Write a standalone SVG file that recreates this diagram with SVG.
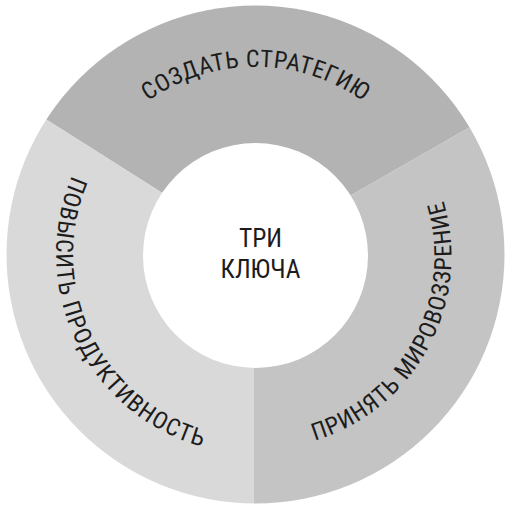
<svg xmlns="http://www.w3.org/2000/svg" width="511" height="514" viewBox="0 0 511 514">
<defs>
<style>
.lbl{font-family:"Liberation Sans Narrow","Roboto Condensed","DejaVu Sans Condensed","Liberation Sans",sans-serif;font-stretch:condensed;fill:#1c1c1c;}
.ring{font-size:24px;}
.ctr{font-size:25.5px;}
</style>
<clipPath id="outer"><circle cx="255.5" cy="254.5" r="249"/></clipPath>
<path id="pTop" d="M71,251.3 A184.5,184.5 0 0 1 440,251.3"/>
<path id="pLeft" d="M166.1,75.6 A200,200 0 0 0 338.6,436.4"/>
<path id="pRight" d="M167.3,426.2 A193,193 0 0 0 349.7,86"/>
</defs>
<rect width="511" height="514" fill="#ffffff"/>
<g clip-path="url(#outer)">
<g id="seg-top"><polygon points="254,251 -100,27 -100,-100 700,-100 700,-5" fill="#b3b3b3"/></g>
<g id="seg-left"><polygon points="254,251 -100,27 -100,700 254,700" fill="#d9d9d9"/></g>
<g id="seg-right"><polygon points="254,251 254,700 700,700 700,-5" fill="#c4c4c4"/></g>
</g>
<g id="center">
<circle cx="255.5" cy="255.5" r="112.5" fill="#ffffff"/>
<text class="lbl ctr" x="260.5" y="246.7" text-anchor="middle">ТРИ</text>
<text class="lbl ctr" x="260.5" y="278.3" text-anchor="middle">КЛЮЧА</text>
</g>
<g id="label-top"><text class="lbl ring" text-anchor="middle"><textPath href="#pTop" startOffset="50%" textLength="229" lengthAdjust="spacing">СОЗДАТЬ СТРАТЕГИЮ</textPath></text></g>
<g id="label-left"><text class="lbl ring" text-anchor="middle"><textPath href="#pLeft" startOffset="50%" textLength="340" lengthAdjust="spacing">ПОВЫСИТЬ ПРОДУКТИВНОСТЬ</textPath></text></g>
<g id="label-right"><text class="lbl ring" text-anchor="middle"><textPath href="#pRight" startOffset="50%" textLength="302" lengthAdjust="spacing">ПРИНЯТЬ МИРОВОЗЗРЕНИЕ</textPath></text></g>
<g id="connectors"></g>
</svg>
